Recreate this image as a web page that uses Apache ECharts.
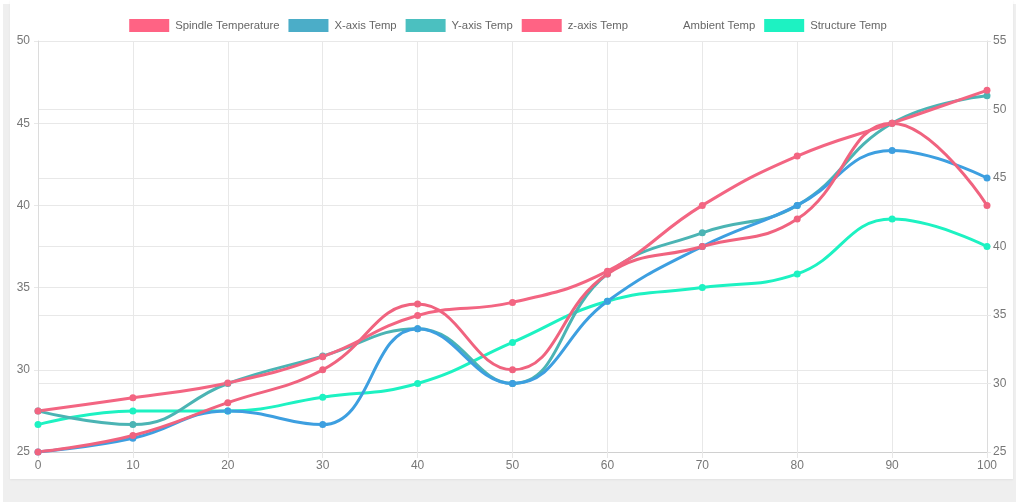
<!DOCTYPE html>
<html>
<head>
<meta charset="utf-8">
<script src="https://cdn.jsdelivr.net/npm/echarts@6/dist/echarts.min.js"></script>
<style>
  * { margin: 0; padding: 0; }
  body { width: 1016px; height: 502px; background: #fff; position: relative; overflow: hidden; }
  .backdrop { position: absolute; left: 3px; top: 4px; width: 1013px; height: 498px; background: #efefef; }
  .card { position: absolute; left: 10px; top: 0; width: 1003px; height: 479px; background: #fff; box-shadow: 0 1px 2px rgba(0,0,0,0.06); }
  #chartId { position: absolute; left: 0; top: 0; width: 1016px; height: 502px; }
</style>
</head>
<body>
<div class="backdrop"></div>
<div class="card"></div>
<div id="chartId"></div>
<script>
// x axis steps
const steps = ["0", "10", "20", "30", "40", "50", "60", "70", "80", "90", "100"];
// left axis
const spindleTemp = [27.5, 28.3, 29.2, 30.8, 33.3, 34.1, 36, 40, 43, 45, 47];
// right axis
const xAxisTemp = [25, 26, 28, 27, 34, 30, 36, 40, 43, 47, 45];
const yAxisTemp = [28, 27, 30, 32, 34, 30, 38, 41, 43, 49, 51];
const zAxisTemp = [25, 26.2, 28.6, 31, 35.8, 31, 38, 40, 42, 49, 43];
const ambientTemp = [];
const structureTemp = [27, 28, 28, 29, 30, 33, 36, 37, 38, 42, 40];

const fontFam = "'Liberation Sans', Arial, sans-serif";
const gridColor = "#e8e8e8";
const labelColor = "#777";

function lineSeries(name, data, color, yIndex) {
  return {
    name: name,
    type: "line",
    yAxisIndex: yIndex,
    data: data,
    smooth: 0.45,
    symbol: "circle",
    symbolSize: 7,
    lineStyle: { width: 3, color: color },
    itemStyle: { color: color },
    emphasis: { disabled: true }
  };
}

let chart = echarts.init(document.getElementById("chartId"));
let option = {
  animation: false,
  textStyle: { fontFamily: fontFam },
  legend: {
    top: 14,
    left: "center",
    itemWidth: 40,
    itemHeight: 13,
    itemGap: 9,
    textStyle: { color: "#666", fontSize: 11.3, fontFamily: fontFam, padding: [0, 0, 0, 1] },
    data: [
      { name: "Spindle Temperature", icon: "rect", itemStyle: { color: "#ff6384" } },
      { name: "X-axis Temp", icon: "rect", itemStyle: { color: "#4badc8" } },
      { name: "Y-axis Temp", icon: "rect", itemStyle: { color: "#4bc0c0" } },
      { name: "z-axis Temp", icon: "rect", itemStyle: { color: "#ff6384" } },
      { name: "Ambient Temp", icon: "rect", itemStyle: { color: "rgba(0,0,0,0)" } },
      { name: "Structure Temp", icon: "rect", itemStyle: { color: "#1df2c2" } }
    ]
  },
  grid: { left: 38, right: 29, top: 41, bottom: 50 },
  xAxis: {
    type: "category",
    boundaryGap: false,
    data: steps,
    axisLine: { show: true, lineStyle: { color: "#d0d0d0" } },
    axisTick: { show: true, length: 6, lineStyle: { color: gridColor } },
    axisLabel: { color: labelColor, fontSize: 12, margin: 8 },
    splitLine: { show: true, lineStyle: { color: gridColor } }
  },
  yAxis: [
    {
      type: "value",
      position: "left",
      min: 25,
      max: 50,
      interval: 5,
      axisLine: { show: true, lineStyle: { color: "#dcdcdc" } },
      axisTick: { show: true, length: 4, lineStyle: { color: gridColor } },
      axisLabel: { color: labelColor, fontSize: 12, margin: 8 },
      splitLine: { show: true, lineStyle: { color: gridColor } }
    },
    {
      type: "value",
      position: "right",
      min: 25,
      max: 55,
      interval: 5,
      axisLine: { show: true, lineStyle: { color: "#dcdcdc" } },
      axisTick: { show: true, length: 4, lineStyle: { color: gridColor } },
      axisLabel: { color: labelColor, fontSize: 12, margin: 6 },
      splitLine: { show: true, lineStyle: { color: gridColor } }
    }
  ],
  series: [
    lineSeries("Structure Temp", structureTemp, "#1df2c2", 1),
    lineSeries("Ambient Temp", ambientTemp, "rgba(0,0,0,0)", 1),
    lineSeries("Y-axis Temp", yAxisTemp, "#4bb4b4", 1),
    lineSeries("X-axis Temp", xAxisTemp, "#3d9fe0", 1),
    lineSeries("z-axis Temp", zAxisTemp, "#f0637f", 1),
    lineSeries("Spindle Temperature", spindleTemp, "#f36582", 0)
  ]
};
chart.setOption(option);
</script>
</body>
</html>
